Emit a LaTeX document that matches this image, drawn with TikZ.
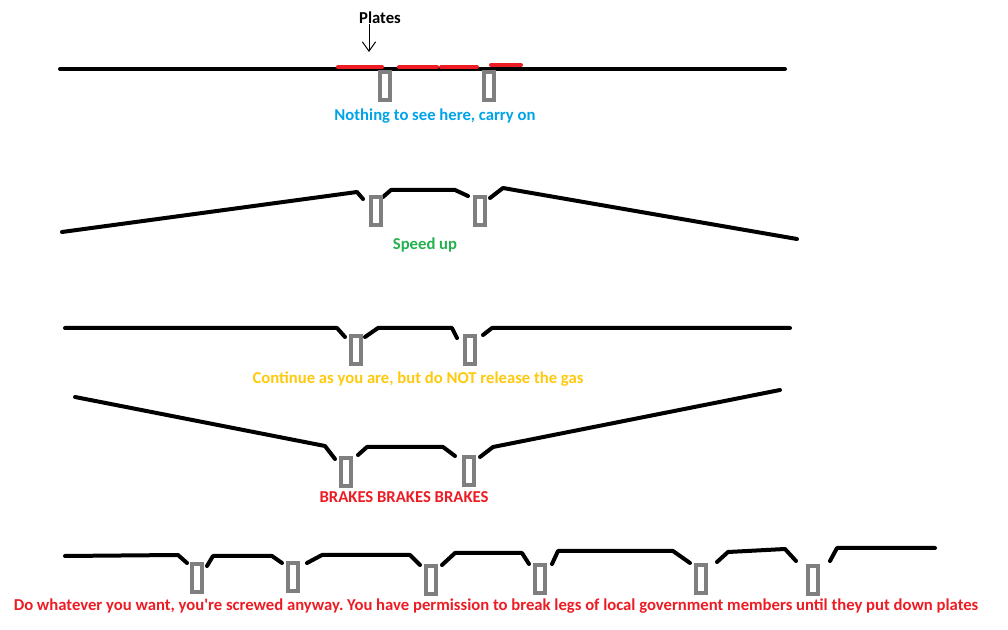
\documentclass[tikz,border=0pt]{standalone}
\usepackage{fontspec}
\setmainfont{Carlito}
\usepackage{tikz}
\usetikzlibrary{arrows.meta}
\definecolor{PaintGray}{RGB}{127,127,127}
\definecolor{PaintRed}{RGB}{237,28,36}
\definecolor{PaintBlue}{RGB}{0,162,232}
\definecolor{PaintGreen}{RGB}{34,177,76}
\definecolor{PaintYellow}{RGB}{255,201,14}
\frenchspacing

\begin{document}
\begin{tikzpicture}[
    x=0.75pt,y=-0.75pt,
    road/.style={line width=3pt, line cap=round, line join=round, draw=black},
    plate/.style={line width=3pt, line cap=round, draw=PaintRed},
    sensor/.style={draw=PaintGray, fill=white, line width=3pt, inner sep=0pt, minimum width=7.5pt, minimum height=21pt},
    caption/.style={font=\fontsize{12.5}{14}\selectfont\bfseries, inner sep=0pt},
    arrow/.style={-{Straight Barb[length=7pt,width=10pt]}, line width=0.75pt}
  ]
    \useasboundingbox (0,0) rectangle (1008,630);
    % row 1: plates
    \draw[road] (60,69) -- (785,69);
    \foreach \a/\b/\y in {338/382/67,399/437/67,441/477/67,491/521/65} {
      \draw[plate] (\a,\y) -- (\b,\y);
    }
    \node[caption] (plates) at (380,18) {Plates};
    \coordinate (tip) at (369,52);
    \draw[arrow] (tip |- plates.south) -- (tip);
    \node[caption, text=PaintBlue] (nothing) at (435,116) {Nothing to see here, carry on};
    % row 2: speed up
    \draw[road] (62,232) -- (357,192) -- (363,199);
    \draw[road] (383,197) -- (391,190) -- (455,190) -- (468,196);
    \draw[road] (490,198) -- (503,188) -- (520,191) -- (797,239);
    \node[caption, text=PaintGreen] (speed) at (425,245) {Speed up};
    % row 3: continue
    \draw[road] (65,328) -- (337,328) -- (345,337);
    \draw[road] (365,337) -- (378,328) -- (452,328) -- (457,338);
    \draw[road] (483,335) -- (492,328) -- (790,328);
    \node[caption, text=PaintYellow] (cont) at (418,379) {Continue as you are, but do NOT release the gas};
    % row 4: brakes
    \draw[road] (75,397) -- (325,446) -- (335,459);
    \draw[road] (358,455) -- (367,447) -- (443,447) -- (455,456);
    \draw[road] (480,457) -- (493,447) -- (780,390);
    \node[caption, text=PaintRed] (brakes) at (404,497) {BRAKES BRAKES BRAKES};
    % row 5: screwed
    \draw[road] (65,556) -- (178,555) -- (187,563);
    \draw[road] (207,566) -- (213,556) -- (272,556) -- (282,563);
    \draw[road] (307,563) -- (322,555) -- (410,555) -- (420,565);
    \draw[road] (442,565) -- (455,553) -- (522,553) -- (529,564);
    \draw[road] (552,564) -- (558,551) -- (673,551) -- (690,563);
    \draw[road] (717,562) -- (728,552) -- (785,549) -- (796,561);
    \draw[road] (830,561) -- (837,548) -- (935,548);
    \node[caption, text=PaintRed] (screwed) at (496,606) {Do whatever you want, you\textquotesingle re screwed anyway. You have permission to break legs of local government members until they put down plates};
    % sensors
    \foreach \x/\y/\name in {385/86/sa1,489/86/sa2,375.5/211.5/sb1,480/211.5/sb2,356/350.5/sc1,469.5/350/sc2,346/472/sd1,469/471.5/sd2,197/578.5/se1,292.5/577.5/se2,430.5/580.5/se3,540/579.5/se4,700.5/579.5/se5,812.5/580.5/se6} {
      \node[sensor] (\name) at (\x,\y) {};
    }
  \end{tikzpicture}
\end{document}
